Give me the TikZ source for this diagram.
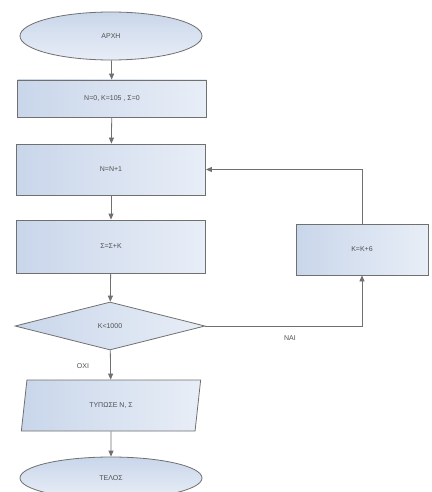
\documentclass[tikz,border=0pt]{standalone}
\usepackage{fontspec}
\setmainfont{Liberation Sans}
\usetikzlibrary{shapes.geometric,arrows.meta}
\definecolor{lineg}{HTML}{707070}
\definecolor{fillA}{HTML}{C9D6EA}
\definecolor{fillB}{HTML}{E8EEF7}
\definecolor{txt}{HTML}{505050}
\tikzset{
  base/.style={draw=lineg, line width=0.8pt, text=txt,
    font=\fontsize{7}{8}\selectfont, inner sep=0pt},
  hshade/.style={left color=fillA, right color=fillB},
  vshade/.style={top color=fillA, bottom color=fillB},
  procbox/.style={base, hshade, rectangle, minimum width=189pt, minimum height=38pt},
  term/.style={base, vshade, ellipse, minimum width=182pt, minimum height=48pt},
  decis/.style={base, hshade, diamond, minimum width=190pt, minimum height=48pt},
  iobox/.style={base, hshade, trapezium, trapezium left angle=76, trapezium right angle=104, trapezium stretches=true, minimum width=180pt, minimum height=51pt},
  lbl/.style={text=txt, font=\fontsize{7}{8}\selectfont},
  arr/.style={draw=lineg, line width=0.8pt, -{Triangle[width=5pt,length=6pt]}}
}
\begin{document}
\begin{tikzpicture}[x=1pt,y=-1pt]
\useasboundingbox[fill=white] (0,0) rectangle (431,492);
\node[term] (start) at (111,36) {ΑΡΧΗ};
\node[procbox, minimum height=37pt] (init) at (112,98.5) {N=0, K=105 , Σ=0};
\node[procbox, minimum height=51pt] (inc) at (111,169.5) {N=N+1};
\node[procbox, minimum height=53pt] (sum) at (111,246.5) {Σ=Σ+K};
\node[decis] (dec) at (110,326) {K<1000};
\node[iobox] (out) at (111,405.5) {ΤΥΠΩΣΕ Ν, Σ};
\node[term, minimum height=42pt] (end) at (111,478) {ΤΕΛΟΣ};
\node[procbox, minimum width=132pt, minimum height=51pt] (kinc) at (362,249.5) {K=K+6};
\coordinate (c1) at (kinc.center |- dec.east);
\coordinate (c2) at (kinc.center |- inc.east);
\draw[arr] (start) -- (init);
\draw[arr] (init) -- (inc);
\draw[arr] (inc) -- (sum);
\draw[arr] (sum) -- (dec);
\draw[arr] (dec) -- (out);
\draw[arr] (out) -- (end);
\draw[arr] (dec.east) -- (c1) -- (kinc.south);
\draw[arr] (kinc.north) -- (c2) -- (inc.east);
\node[lbl] (yes) at (290,338) {ΝΑΙ};
\node[lbl] (no) at (83,366) {ΟΧΙ};
\end{tikzpicture}
\end{document}
